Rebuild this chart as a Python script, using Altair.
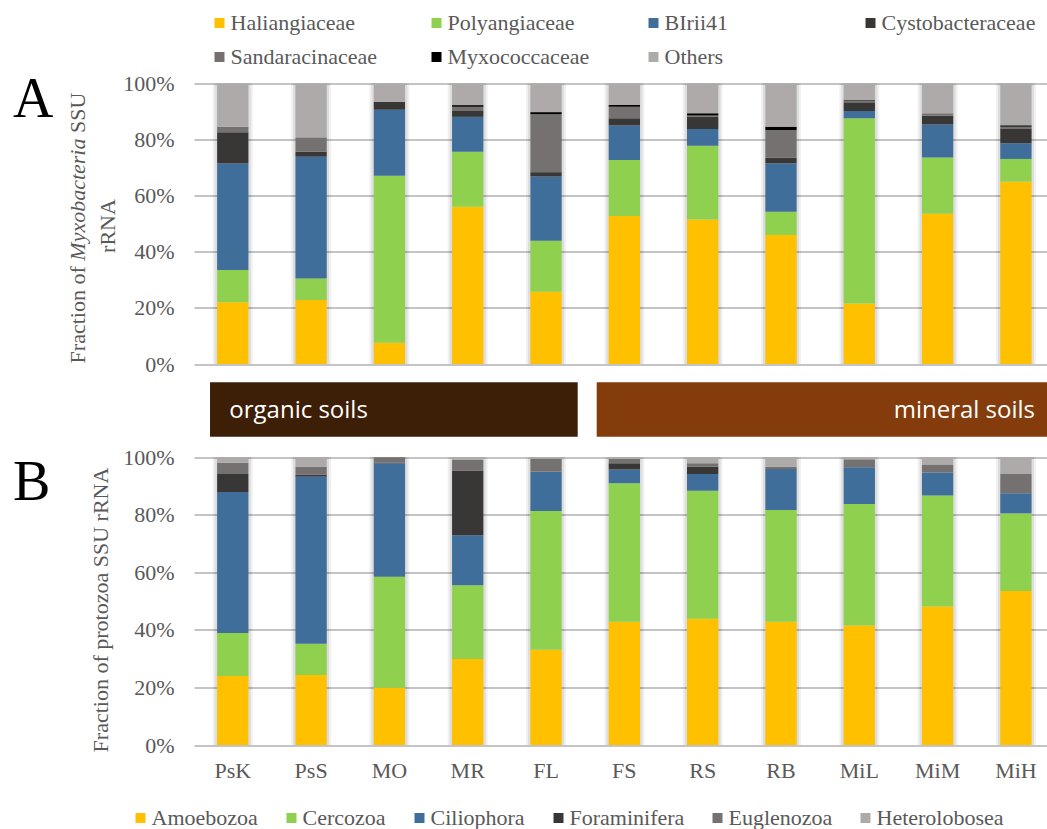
import altair as alt
import pandas as pd

# ---------------------------------------------------------------- data
sites = ["PsK", "PsS", "MO", "MR", "FL", "FS", "RS", "RB", "MiL", "MiM", "MiH"]

# Panel A: Myxobacteria families, % of Myxobacteria SSU rRNA reads
myxo_families = ["Haliangiaceae", "Polyangiaceae", "BIrii41", "Cystobacteraceae",
                 "Sandaracinaceae", "Myxococcaceae", "Others"]
myxo_colors = ["#FFC000", "#8FD14F", "#3F6E9A", "#393736", "#767171", "#000000", "#AEAAAA"]
haliangiaceae    = [22.0, 22.8,  7.6, 56.1, 25.8, 52.8, 51.5, 46.0, 21.6, 53.6, 65.0]
polyangiaceae    = [11.5,  7.7, 59.5, 19.6, 18.1, 19.9, 26.3,  8.3, 66.0, 20.0,  8.1]
birii41          = [38.0, 43.4, 23.5, 12.4, 22.9, 12.3,  6.0, 17.2,  2.6, 11.8,  5.6]
cystobacteraceae = [11.1,  1.8,  2.9,  2.1,  1.6,  2.6,  4.4,  2.1,  3.1,  3.1,  5.3]
sandaracinaceae  = [ 2.0,  5.1,  0.0,  1.5, 20.7,  4.1,  0.4,  9.8,  0.6,  0.9,  0.6]
myxococcaceae    = [ 0.0,  0.0,  0.0,  0.6,  0.7,  0.6,  0.8,  1.2,  0.2,  0.0,  0.5]
others           = [15.4, 19.2,  6.5,  7.7, 10.2,  7.7, 10.6, 15.4,  5.9, 10.6, 14.9]

# Panel B: protozoan groups, % of protozoa SSU rRNA reads
protist_groups = ["Amoebozoa", "Cercozoa", "Ciliophora", "Foraminifera",
                  "Euglenozoa", "Heterolobosea"]
protist_colors = ["#FFC000", "#8FD14F", "#3F6E9A", "#393736", "#767171", "#AEAAAA"]
amoebozoa     = [24.0, 24.3, 19.9, 29.9, 33.1, 42.8, 43.9, 42.8, 41.5, 48.1, 53.5]
cercozoa      = [14.9, 10.9, 38.6, 25.6, 48.2, 48.2, 44.5, 38.9, 42.3, 38.6, 27.0]
ciliophora    = [49.0, 58.1, 39.4, 17.4, 13.7,  4.8,  5.8, 14.2, 12.7,  8.0,  7.0]
foraminifera  = [ 6.3,  0.7,  0.2, 22.4,  0.0,  2.1,  2.5,  0.0,  0.0,  0.0,  0.0]
euglenozoa    = [ 3.9,  2.7,  1.9,  3.8,  4.5,  1.5,  1.2,  0.8,  2.8,  2.8,  6.7]
heterolobosea = [ 1.9,  3.3,  0.0,  0.9,  0.5,  0.6,  2.1,  3.3,  0.7,  2.5,  5.8]

pct_ticks = [0, 20, 40, 60, 80, 100]


def long_table(names, series):
    rows = []
    for k, (name, vals) in enumerate(zip(names, series)):
        for s, v in zip(sites, vals):
            rows.append({"site": s, "group": name, "k": k, "pct": v})
    return pd.DataFrame(rows)


df_a = long_table(myxo_families, [haliangiaceae, polyangiaceae, birii41, cystobacteraceae,
                                  sandaracinaceae, myxococcaceae, others])
df_b = long_table(protist_groups, [amoebozoa, cercozoa, ciliophora, foraminifera,
                                   euglenozoa, heterolobosea])

# ---------------------------------------------------------------- layout
W = 853.0          # shared plot width
H = 661.5          # both panels stacked in one plot area
A_RANGE = [280.5, 0]        # panel A occupies the top strip
B_RANGE = [H, 373.8]        # panel B occupies the bottom strip

SERIF = "Liberation Serif"
GREY = "#595959"
GRID = "#C4C4C4"

x_enc = alt.X(
    "site:N", sort=sites, title=None,
    scale=alt.Scale(domain=sites, paddingInner=0.6, paddingOuter=0.246, align=0.6),
    axis=alt.Axis(orient="bottom", domain=False, ticks=False, grid=False, labelAngle=0,
                  labelFont=SERIF, labelFontSize=22, labelColor=GREY, labelPadding=15),
)


def y_axis():
    return alt.Axis(orient="left", values=pct_ticks, labelExpr="datum.value + '%'",
                    title=None, domain=False, ticks=False, grid=True,
                    gridColor=GRID, gridWidth=2, labelFont=SERIF, labelFontSize=22,
                    labelColor=GREY, labelPadding=20)


def stacked_layers(df, names, colors, rng, legend):
    yscale = alt.Scale(domain=[0, 100], range=rng, nice=False)
    shadow_outer = alt.Chart(df).mark_bar(size=40, color="#000000", opacity=0.06).encode(
        x=x_enc, y=alt.Y("sum(pct):Q", scale=yscale, axis=None))
    shadow_inner = alt.Chart(df).mark_bar(size=36, color="#000000", opacity=0.08).encode(
        x=x_enc, y=alt.Y("sum(pct):Q", scale=yscale, axis=None))
    bars = alt.Chart(df).mark_bar().encode(
        x=x_enc,
        y=alt.Y("pct:Q", stack="zero", scale=yscale, axis=y_axis()),
        color=alt.Color("group:N", scale=alt.Scale(domain=names, range=colors), legend=legend),
        order=alt.Order("k:Q", sort="ascending"),
    )
    return [shadow_outer, shadow_inner, bars]


legend_a = alt.Legend(title=None, orient="none", legendX=14.5, legendY=-71.5, columns=4,
                      direction="horizontal", gridAlign="all", symbolType="square",
                      symbolSize=100, symbolStrokeWidth=0, labelFont=SERIF,
                      labelFontSize=22, labelColor=GREY, labelOffset=0,
                      columnPadding=41, rowPadding=12, labelLimit=400, padding=0)
legend_b = alt.Legend(title=None, orient="none", legendX=-64.5, legendY=723.5,
                      direction="vertical", columns=6, gridAlign="each",
                      symbolType="square", symbolSize=100, symbolStrokeWidth=0,
                      labelFont=SERIF, labelFontSize=22, labelColor=GREY,
                      labelOffset=0, columnPadding=22, labelLimit=400, padding=0)

layers_a = stacked_layers(df_a, myxo_families, myxo_colors, A_RANGE, legend_a)
layers_b = stacked_layers(df_b, protist_groups, protist_colors, B_RANGE, legend_b)


def text_at(txt, x, y, **kw):
    return alt.Chart(pd.DataFrame({"t": [txt]})).mark_text(**kw).encode(
        x=alt.value(x), y=alt.value(y), text="t:N")


def box(x0, x1, y0, y1, color):
    return alt.Chart(pd.DataFrame({"n": [0]})).mark_rect(color=color).encode(
        x=alt.value(x0), x2=alt.value(x1), y=alt.value(y0), y2=alt.value(y1))


rot = dict(angle=270, baseline="middle", font=SERIF, fontSize=22, color=GREY)
annotations = [
    # panel letters
    text_at("A", -181, 33.5, font=SERIF, fontSize=56, color="#000000",
            align="left", baseline="alphabetic"),
    text_at("B", -181, 416.5, font=SERIF, fontSize=56, color="#000000",
            align="left", baseline="alphabetic"),
    # panel A axis title (two lines, genus name in italics)
    text_at("Fraction of", -116, 279.9, align="left", **rot),
    text_at("Myxobacteria", -116, 177.2, align="left", fontStyle="italic", **rot),
    text_at("SSU", -116, 49.5, align="left", **rot),
    text_at("rRNA", -86, 142.5, align="center", **rot),
    # panel B axis title
    text_at("Fraction of protozoa SSU rRNA", -93, 526.5, align="center", **rot),
    # soil type bands between the panels
    box(16, 383.7, 298.8, 353.2, "#3D1E07"),
    box(402.7, W, 298.8, 353.2, "#843C0C"),
    text_at("organic soils", 35.3, 334.8, font="Open Sans", fontSize=24,
            color="#FFFFFF", align="left", baseline="alphabetic"),
    text_at("mineral soils", 841, 334.8, font="Open Sans", fontSize=24,
            color="#FFFFFF", align="right", baseline="alphabetic"),
]

chart = alt.layer(*layers_a, *layers_b, *annotations).resolve_scale(
    y="independent", color="independent"
).properties(
    width=W, height=H,
    autosize=alt.AutoSizeParams(type="none"),
    padding={"left": 194, "top": 83.5, "right": 0, "bottom": 84},
    background="#FFFFFF",
).configure_view(
    stroke=None
).configure_axis(
    labelFont=SERIF, labelFontSize=22, labelColor=GREY
).configure_legend(
    labelFont=SERIF, labelFontSize=22, labelColor=GREY
)

chart.save("out.html", embed_options={"renderer": "svg", "actions": False})
